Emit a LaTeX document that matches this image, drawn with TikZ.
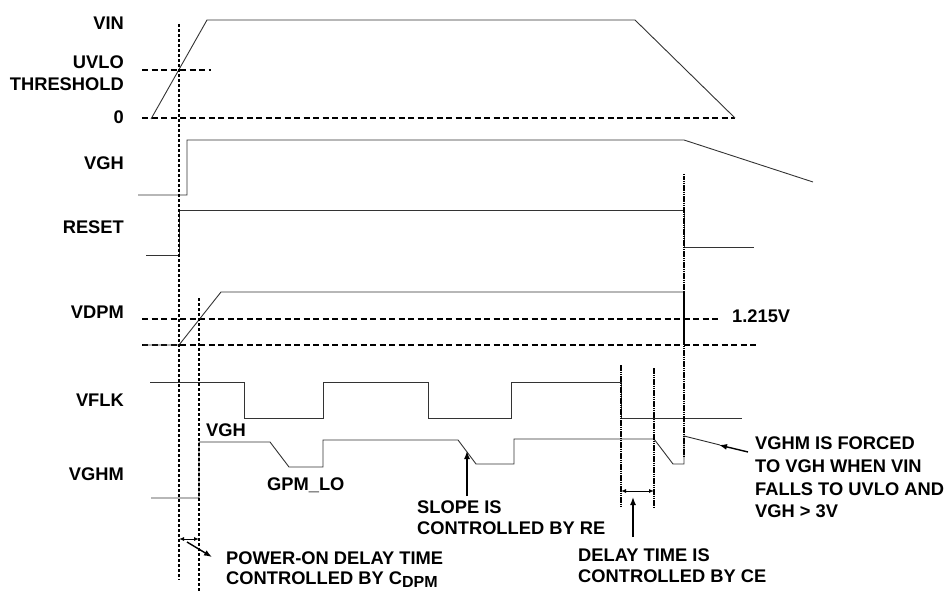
\documentclass[tikz,border=0pt]{standalone}
\usepackage{fontspec}
\setmainfont{Liberation Sans}
\usetikzlibrary{arrows.meta}

\newcommand{\lblfont}{\fontsize{18.3}{21.5}\selectfont\bfseries}

\begin{document}
\begin{tikzpicture}[
    x=1pt, y=-1pt,
    wave/.style={black!80, line width=0.9pt},
    thresh/.style={black, line width=1.4pt, dash pattern=on 6pt off 3.5pt},
    tmark/.style={black, line width=1.4pt, dash pattern=on 3pt off 2pt},
    edgemark/.style={black, line width=1.6pt, dash pattern=on 1.5pt off 0.7pt},
    signame/.style={anchor=base east, inner sep=0pt, font=\lblfont},
    annot/.style={anchor=base west, inner sep=0pt, font=\lblfont},
    callout/.style={-{Latex[length=8pt, width=6pt]}, line width=1.4pt},
    dblarrow/.style={{Latex[length=5pt, width=4pt]}-{Latex[length=5pt, width=4pt]}, line width=1pt}
]
\useasboundingbox (0,0) rectangle (948,591);

% Key instants
\def\tOn{179}  % VIN crosses UVLO
\def\tDpm{199} % VDPM reaches 1.215V
\def\tA{621}
\def\tB{654}
\def\tOff{684} % VIN falls to UVLO

% ==========================================
% Signal names
\node[signame] (nVIN)  at (124,29.6)  {VIN};
\node[signame] (nUVLO) at (124,68.6)  {UVLO};
\node[signame] (nTHR)  at (124,90.6)  {THRESHOLD};
\node[signame] (nZero) at (124,123.6) {0};
\node[signame] (nVGH)  at (124,169.6) {VGH};
\node[signame] (nRST)  at (124,233.6) {RESET};
\node[signame] (nVDPM) at (124,318.6) {VDPM};
\node[signame] (nVFLK) at (124,406.6) {VFLK};
\node[signame] (nVGHM) at (124,480.6) {VGHM};

% ==========================================
% VIN
\draw[thresh] (142,70) -- (211,70);
\draw[thresh] (142,118) -- (735,118);
\draw[wave] (151,119) -- (207,20) -- (635,20) -- (735,118);

% VGH
\draw[wave] (138,195) -- (187,195) -- (187,140) -- (\tOff,140) -- (813,182);

% RESET
\draw[wave] (146,255) -- (\tOn,255) -- (\tOn,210) -- (\tOff,210) -- (\tOff,247) -- (754,247);

% VDPM
\draw[thresh] (142,319) -- (720,319);
\draw[thresh] (142,345) -- (757,345);
\draw[wave] (143,345) -- (\tOn,345) -- (221,292) -- (\tOff,292);
\draw[black, line width=1.6pt] (\tOff,292) -- (\tOff,345);
\node[annot] (nRef) at (732,322.6) {1.215V};

% VFLK
\draw[wave] (150,382) -- (244,382) -- (244,418) -- (323,418) -- (323,382)
    -- (428,382) -- (428,418) -- (511,418) -- (511,382) -- (\tA,382)
    -- (\tA,418) -- (742,418);

% VGHM
\draw[wave] (151,498) -- (\tDpm,498) -- (\tDpm,442) -- (270,442) -- (289,467)
    -- (323,467) -- (323,440) -- (458,440) -- (476,464) -- (514,464)
    -- (514,439) -- (\tB,439) -- (673,464) -- (\tOff,464) -- (\tOff,436)
    -- (720,445);
\node[annot] (nVghLvl) at (206,436.6) {VGH};
\node[annot] (nGpmLo)  at (267,490.6) {GPM\_LO};

% ==========================================
% Timing markers
\draw[tmark] (\tOn,24) -- (\tOn,580);
\draw[tmark] (\tDpm,298) -- (\tDpm,591);
\draw[edgemark] (\tA,365) -- (\tA,508);
\draw[edgemark] (\tB,368) -- (\tB,508);
\draw[edgemark] (\tOff,174) -- (\tOff,457);

% ==========================================
% Notes
\coordinate (pwrL) at (\tOn,539);
\coordinate (pwrR) at (\tDpm,539);
\draw[dblarrow] (pwrL) -- (pwrR);
\coordinate (pwrTail) at (187,542);
\coordinate (pwrTip) at (212,557);
\draw[callout] (pwrTail) -- (pwrTip);
\node[annot] (nPwr1) at (226,564.6) {POWER-ON DELAY TIME};
\node[annot] (nPwr2) at (226,584.6) {CONTROLLED BY C\raisebox{-3pt}{\fontsize{16}{16}\selectfont DPM}};

\coordinate (slopeTail) at (467,496);
\coordinate (slopeTip) at (467,451);
\draw[callout] (slopeTail) -- (slopeTip);
\node[annot] (nSlope1) at (417,513.6) {SLOPE IS};
\node[annot] (nSlope2) at (417,534.6) {CONTROLLED BY RE};

\coordinate (ceL) at (\tA,491);
\coordinate (ceR) at (\tB,491);
\draw[dblarrow] (ceL) -- (ceR);
\coordinate (ceTail) at (633,537);
\coordinate (ceTip) at (633,497);
\draw[callout] (ceTail) -- (ceTip);
\node[annot] (nDelay1) at (578,561.6) {DELAY TIME IS};
\node[annot] (nDelay2) at (578,582.6) {CONTROLLED BY CE};

\coordinate (frcTail) at (748,452);
\coordinate (frcTip) at (719,445);
\draw[callout] (frcTail) -- (frcTip);
\node[annot] (nFrc1) at (755,449.6) {VGHM IS FORCED};
\node[annot] (nFrc2) at (755,472.6) {TO VGH WHEN VIN};
\node[annot] (nFrc3) at (755,495.6) {FALLS TO UVLO AND};
\node[annot] (nFrc4) at (755,517.1) {VGH > 3V};

\end{tikzpicture}
\end{document}
